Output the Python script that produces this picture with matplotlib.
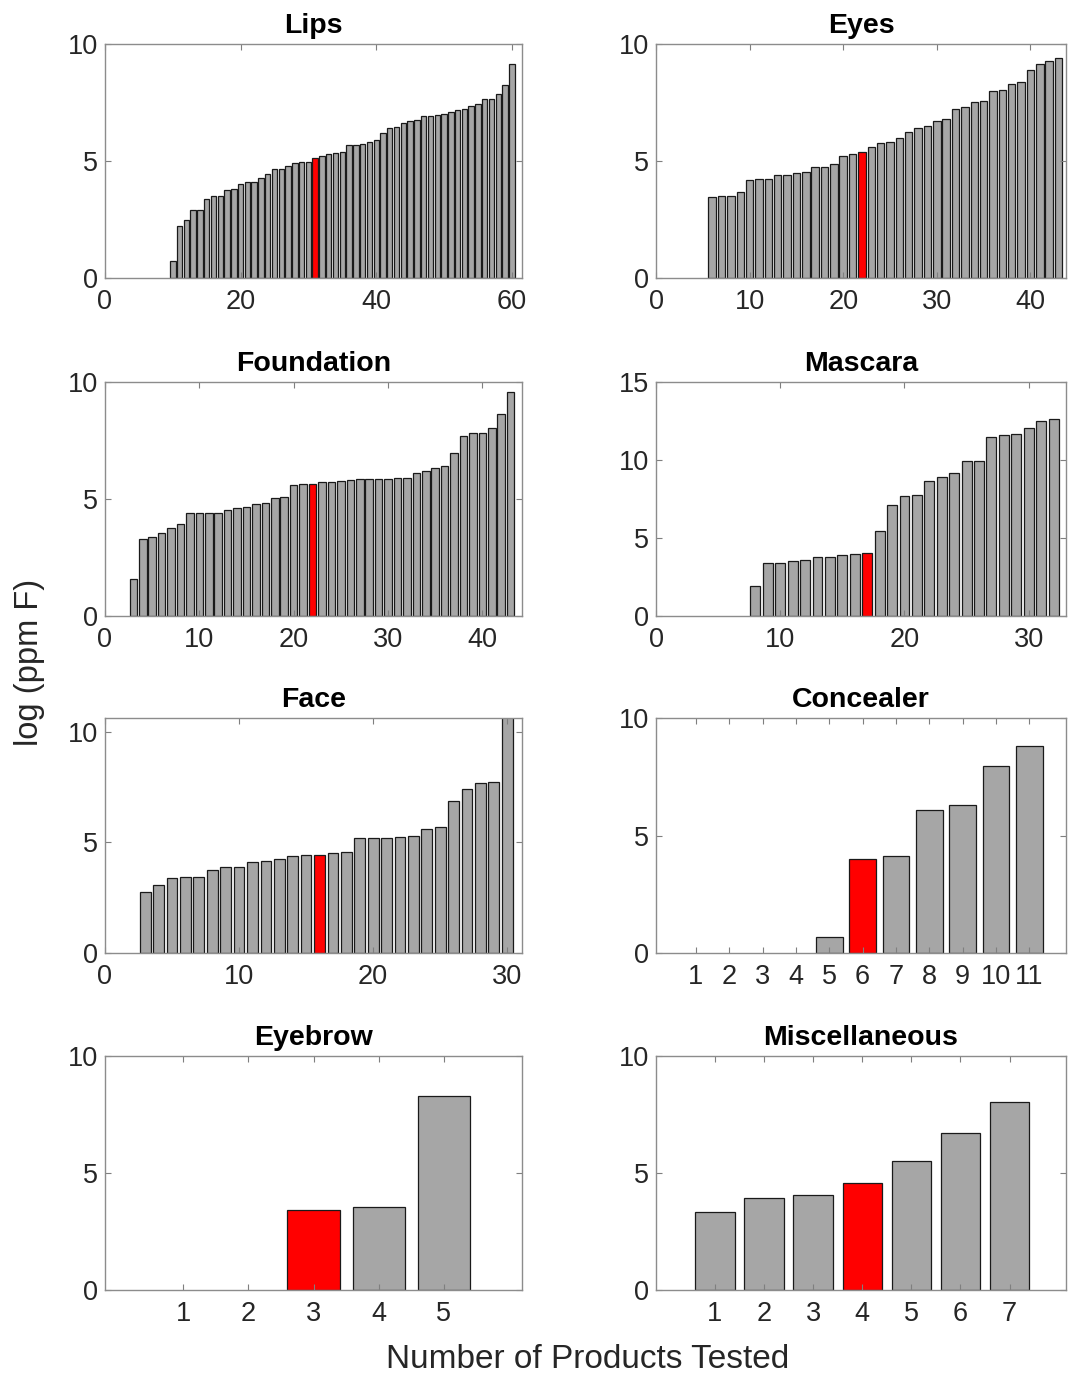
import numpy as np
import matplotlib.pyplot as plt

plt.rcParams['font.family'] = ['Liberation Sans', 'DejaVu Sans']

# bar heights, log(ppm F); first x position and highlighted (median) bar
lips_start = 10
lips_vals = [0.71, 2.21, 2.48, 2.89, 2.89, 3.38, 3.52, 3.52, 3.77, 3.79,
             4.02, 4.12, 4.12, 4.29, 4.43, 4.64, 4.66, 4.77, 4.93, 4.94,
             4.97, 5.13, 5.23, 5.28, 5.36, 5.40, 5.68, 5.70, 5.73, 5.81,
             5.90, 6.21, 6.40, 6.45, 6.64, 6.70, 6.74, 6.92, 6.92, 6.98,
             7.02, 7.09, 7.18, 7.22, 7.35, 7.44, 7.66, 7.66, 7.88, 8.25, 9.13]
lips_red = 31

eyes_start = 6
eyes_vals = [3.48, 3.50, 3.50, 3.66, 4.19, 4.23, 4.23, 4.39, 4.39, 4.49,
             4.52, 4.76, 4.76, 4.87, 5.21, 5.28, 5.40, 5.58, 5.77, 5.80,
             5.97, 6.25, 6.40, 6.48, 6.70, 6.81, 7.22, 7.32, 7.52, 7.58,
             8.01, 8.03, 8.29, 8.36, 8.90, 9.15, 9.26, 9.39]
eyes_red = 22

foundation_start = 3
foundation_vals = [1.58, 3.31, 3.39, 3.56, 3.78, 3.95, 4.41, 4.42, 4.42, 4.42,
                   4.55, 4.61, 4.67, 4.78, 4.84, 5.06, 5.09, 5.58, 5.66, 5.66,
                   5.73, 5.73, 5.78, 5.83, 5.85, 5.85, 5.86, 5.86, 5.89, 5.90,
                   6.12, 6.20, 6.33, 6.43, 6.98, 7.70, 7.81, 7.81, 8.05, 8.63, 9.56]
foundation_red = 22

mascara_start = 8
mascara_vals = [1.95, 3.38, 3.40, 3.53, 3.62, 3.75, 3.81, 3.92, 3.96, 4.07,
                5.48, 7.11, 7.67, 7.73, 8.67, 8.93, 9.14, 9.91, 9.96, 11.50,
                11.58, 11.65, 12.08, 12.48, 12.63]
mascara_red = 17

face_start = 3
face_vals = [2.74, 3.06, 3.38, 3.44, 3.44, 3.76, 3.89, 3.89, 4.09, 4.15,
             4.26, 4.38, 4.41, 4.44, 4.50, 4.58, 5.18, 5.20, 5.20, 5.26,
             5.29, 5.61, 5.71, 6.85, 7.42, 7.68, 7.73, 10.8]
face_red = 16

concealer_start = 5
concealer_vals = [0.70, 4.00, 4.11, 6.07, 6.30, 7.95, 8.82]
concealer_red = 6

eyebrow_start = 3
eyebrow_vals = [3.42, 3.56, 8.29]
eyebrow_red = 3

misc_start = 1
misc_vals = [3.34, 3.94, 4.08, 4.59, 5.52, 6.70, 8.05]
misc_red = 4

panels = [
    ("Lips", lips_start, lips_vals, lips_red, (0, 61.5), [0, 20, 40, 60], (0, 10), [0, 5, 10]),
    ("Eyes", eyes_start, eyes_vals, eyes_red, (0, 43.8), [0, 10, 20, 30, 40], (0, 10), [0, 5, 10]),
    ("Foundation", foundation_start, foundation_vals, foundation_red, (0, 44.2), [0, 10, 20, 30, 40], (0, 10), [0, 5, 10]),
    ("Mascara", mascara_start, mascara_vals, mascara_red, (0, 33), [0, 10, 20, 30], (0, 15), [0, 5, 10, 15]),
    ("Face", face_start, face_vals, face_red, (0, 31.1), [0, 10, 20, 30], (0, 10.62), [0, 5, 10]),
    ("Concealer", concealer_start, concealer_vals, concealer_red, (-0.2, 12.1), list(range(1, 12)), (0, 10), [0, 5, 10]),
    ("Eyebrow", eyebrow_start, eyebrow_vals, eyebrow_red, (-0.2, 6.2), list(range(1, 6)), (0, 10), [0, 5, 10]),
    ("Miscellaneous", misc_start, misc_vals, misc_red, (-0.2, 8.15), list(range(1, 8)), (0, 10), [0, 5, 10]),
]

W, H = 1073, 1375
fig = plt.figure(figsize=(W / 100, H / 100), dpi=100)

col_left = [(105, 522), (656, 1066)]
row_top = [(44, 278), (382, 616), (718, 953), (1056, 1290)]

for i, (title, start, vals, red, xlim, xticks, ylim, yticks) in enumerate(panels):
    (x0, x1), (y0, y1) = col_left[i % 2], row_top[i // 2]
    ax = fig.add_axes([x0 / W, 1 - y1 / H, (x1 - x0) / W, (y1 - y0) / H])

    x = np.arange(start, start + len(vals))
    colors = ['#ff0000' if xi == red else '#a6a6a6' for xi in x]
    ax.bar(x, vals, width=0.8, color=colors, edgecolor='#1a1a1a', linewidth=0.9)

    ax.set_xlim(*xlim)
    ax.set_ylim(*ylim)
    ax.set_xticks(xticks)
    ax.set_yticks(yticks)
    ax.set_title(title, fontsize=20.5, fontweight='bold', pad=8)
    ax.tick_params(direction='in', top=True, right=True, length=4, width=0.8,
                   color='#7f7f7f', labelsize=19.5, labelcolor='#262626')
    ax.tick_params(axis='x', pad=8)
    ax.tick_params(axis='y', pad=5)
    for s in ax.spines.values():
        s.set_color('#8c8c8c')
        s.set_linewidth(1.0)

fig.text(30 / W, 1 - 662 / H, "log (ppm F)", rotation=90, ha='center', va='center',
         fontsize=23.5, color='#262626')
fig.text(588 / W, 1 - 1359 / H, "Number of Products Tested", ha='center', va='center',
         fontsize=24, color='#262626')

fig.savefig("out.png", dpi=100)
